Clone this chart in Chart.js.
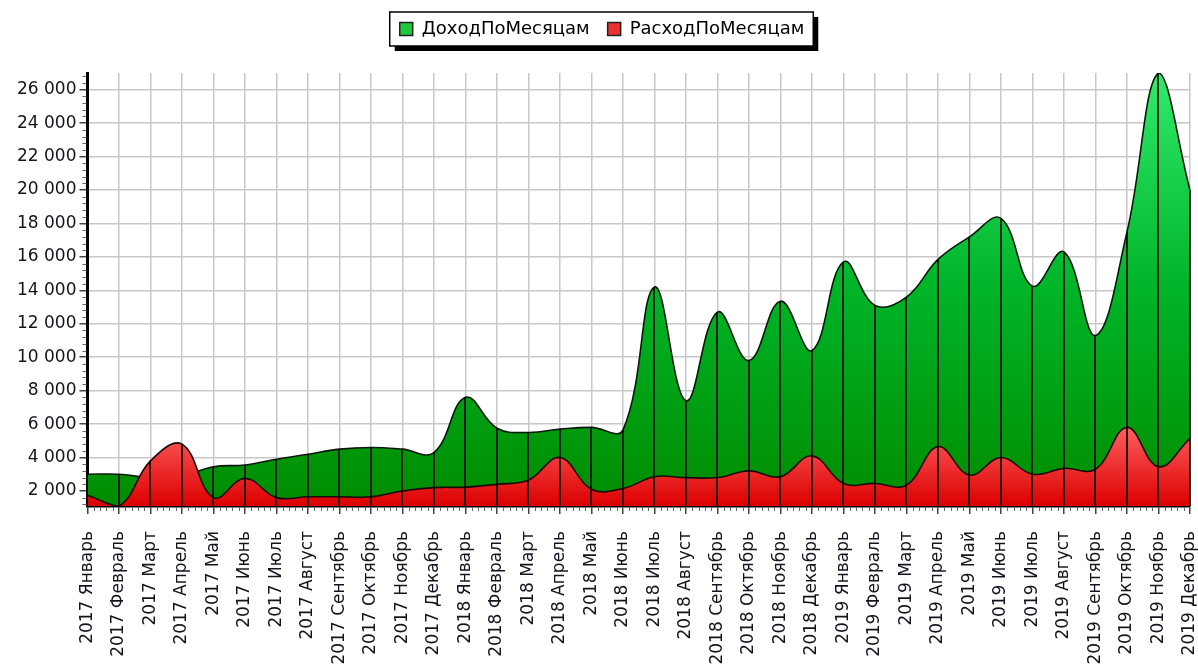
<!DOCTYPE html>
<html>
<head>
<meta charset="utf-8">
<script src="https://cdn.jsdelivr.net/npm/chart.js@4/dist/chart.umd.min.js"></script>
<style>
  html, body { margin: 0; padding: 0; background: #fff; }
  #wrap { width: 1198px; height: 667px; }
</style>
</head>
<body>
<div id="wrap"><canvas id="myChart"></canvas></div>
<script>
const years = ["2017", "2018", "2019"];
const months = ["Январь", "Февраль", "Март", "Апрель", "Май", "Июнь",
  "Июль", "Август", "Сентябрь", "Октябрь", "Ноябрь", "Декабрь"];
const labels = [];
years.forEach(y => months.forEach(m => labels.push(y + " " + m)));

const income = [
  3000, 3000, 2800, 2900, 3450, 3550, 3900, 4200, 4500, 4600, 4500, 4300,
  7600, 5750, 5500, 5700, 5800, 5650, 14200, 7400, 12700, 9800, 13350, 10400,
  15700, 13100, 13600, 15850, 17200, 18300, 14250, 16300, 11300, 17500, 27000, 20000,
];
const expense = [
  1750, 1100, 3800, 4800, 1600, 2750, 1600, 1650, 1650, 1650, 2000, 2200,
  2230, 2400, 2650, 4000, 2100, 2150, 2850, 2800, 2800, 3200, 2850, 4100,
  2450, 2450, 2350, 4650, 2950, 4000, 3000, 3350, 3300, 5800, 3450, 5150,
];
const yTicks = [2000, 4000, 6000, 8000, 10000, 12000, 14000, 16000, 18000, 20000, 22000, 24000, 26000];

function fmt(v) {
  return String(v).replace(/\B(?=(\d{3})+(?!\d))/g, " ");
}

function greenFill(ctx) {
  const area = ctx.chart.chartArea;
  if (!area) return "#00a020";
  const g = ctx.chart.ctx.createLinearGradient(0, area.top, 0, area.bottom);
  g.addColorStop(0, "#30ea6c");
  g.addColorStop(0.5, "#00b428");
  g.addColorStop(1, "#008c00");
  return g;
}

function redFill(ctx) {
  const chart = ctx.chart;
  const area = chart.chartArea;
  if (!area) return "#f02020";
  const y = chart.scales.y;
  const g = chart.ctx.createLinearGradient(0, y.getPixelForValue(6000), 0, area.bottom);
  g.addColorStop(0, "#ff6262");
  g.addColorStop(1, "#dc0000");
  return g;
}

// legend moved up, framed legend, drop lines and minor ticks
const extras = {
  id: "extras",
  afterLayout(chart) {
    const lg = chart.legend;
    if (lg) {
      lg.top -= 25;
      lg.bottom -= 25;
    }
  },
  beforeDraw(chart) {
    const lg = chart.legend;
    if (!lg || !lg.legendHitBoxes || !lg.legendHitBoxes.length) return;
    const boxes = lg.legendHitBoxes;
    const left = Math.min(...boxes.map(b => b.left)) - 10;
    const right = Math.max(...boxes.map(b => b.left + b.width)) + 9;
    const top = Math.min(...boxes.map(b => b.top)) - 8;
    const bottom = Math.max(...boxes.map(b => b.top + b.height)) + 8;
    const c = chart.ctx;
    c.save();
    c.fillStyle = "#000";
    c.fillRect(left + 5, top + 5, right - left, bottom - top);
    c.fillStyle = "#fff";
    c.fillRect(left, top, right - left, bottom - top);
    c.strokeStyle = "#000";
    c.lineWidth = 1.5;
    c.strokeRect(left, top, right - left, bottom - top);
    c.restore();
  },
  afterDatasetsDraw(chart) {
    const c = chart.ctx;
    const area = chart.chartArea;
    const x = chart.scales.x;
    const y = chart.scales.y;
    const m0 = chart.getDatasetMeta(0).data;
    const m1 = chart.getDatasetMeta(1).data;
    c.save();
    c.strokeStyle = "#000";
    c.lineWidth = 1.6;
    for (let i = 0; i < labels.length; i++) {
      const top = Math.min(m0[i].y, m1[i].y);
      const px = Math.round(m0[i].x);
      c.beginPath();
      c.moveTo(px, top);
      c.lineTo(px, area.bottom);
      c.stroke();
    }
    // minor ticks
    c.strokeStyle = "#666";
    c.lineWidth = 1;
    for (let i = 0; i < labels.length - 1; i++) {
      for (let k = 1; k < 5; k++) {
        const px = Math.round(x.getPixelForValue(i + k / 5)) + 0.5;
        c.beginPath();
        c.moveTo(px, area.bottom + 1);
        c.lineTo(px, area.bottom + 5);
        c.stroke();
      }
    }
    for (let v = 1200; v < 27000; v += 400) {
      if (v % 2000 === 0) continue;
      const py = Math.round(y.getPixelForValue(v)) + 0.5;
      c.beginPath();
      c.moveTo(area.left - 5, py);
      c.lineTo(area.left - 1, py);
      c.stroke();
    }
    c.restore();
  },
};

const ctx = document.getElementById("myChart").getContext("2d");
const myChart = new Chart(ctx, {
  type: "line",
  data: {
    labels: labels,
    datasets: [
      {
        label: "ДоходПоМесяцам",
        data: income,
        fill: "start",
        backgroundColor: greenFill,
        borderColor: "#0a1a0a",
        borderWidth: 1.6,
        pointRadius: 0,
        tension: 0.4,
        order: 1,
      },
      {
        label: "РасходПоМесяцам",
        data: expense,
        fill: "start",
        backgroundColor: redFill,
        borderColor: "#1a0a0a",
        borderWidth: 1.6,
        pointRadius: 0,
        tension: 0.4,
        order: 0,
      },
    ],
  },
  options: {
    responsive: true,
    maintainAspectRatio: false,
    animation: false,
    layout: { padding: { left: 14, right: 8, top: 27, bottom: 0 } },
    plugins: {
      tooltip: { enabled: false },
      legend: {
        position: "top",
        sort: (a, b) => a.datasetIndex - b.datasetIndex,
        labels: {
          boxWidth: 13,
          boxHeight: 13,
          padding: 18,
          color: "#1a1a2a",
          font: { family: "DejaVu Sans", size: 18 },
          generateLabels(chart) {
            const cols = ["#1ec83c", "#ee3030"];
            return chart.data.datasets.map((d, i) => ({
              text: d.label,
              fillStyle: cols[i],
              strokeStyle: "#222",
              lineWidth: 1.5,
              datasetIndex: i,
              hidden: false,
            }));
          },
        },
      },
    },
    scales: {
      x: {
        offset: false,
        afterFit(scale) {
          scale.paddingRight = 1;
          scale.height = 161;
        },
        grid: {
          color: "#c8c8c8",
          lineWidth: 1.5,
          tickColor: "#444",
          tickLength: 8,
        },
        border: { color: "#000", width: 2.5 },
        ticks: {
          autoSkip: false,
          minRotation: 90,
          maxRotation: 90,
          padding: 17,
          color: "#141420",
          font: { family: "DejaVu Sans", size: 17 },
        },
      },
      y: {
        min: 1100,
        max: 27000,
        afterBuildTicks(scale) {
          scale.ticks = yTicks.map(v => ({ value: v }));
        },
        grid: {
          color: "#c8c8c8",
          lineWidth: 1.5,
          tickColor: "#444",
          tickLength: 8,
        },
        border: { color: "#000", width: 3 },
        ticks: {
          padding: 3,
          color: "#141420",
          font: { family: "DejaVu Sans", size: 17 },
          callback: v => fmt(v),
        },
      },
    },
  },
  plugins: [extras],
});
</script>
</body>
</html>
